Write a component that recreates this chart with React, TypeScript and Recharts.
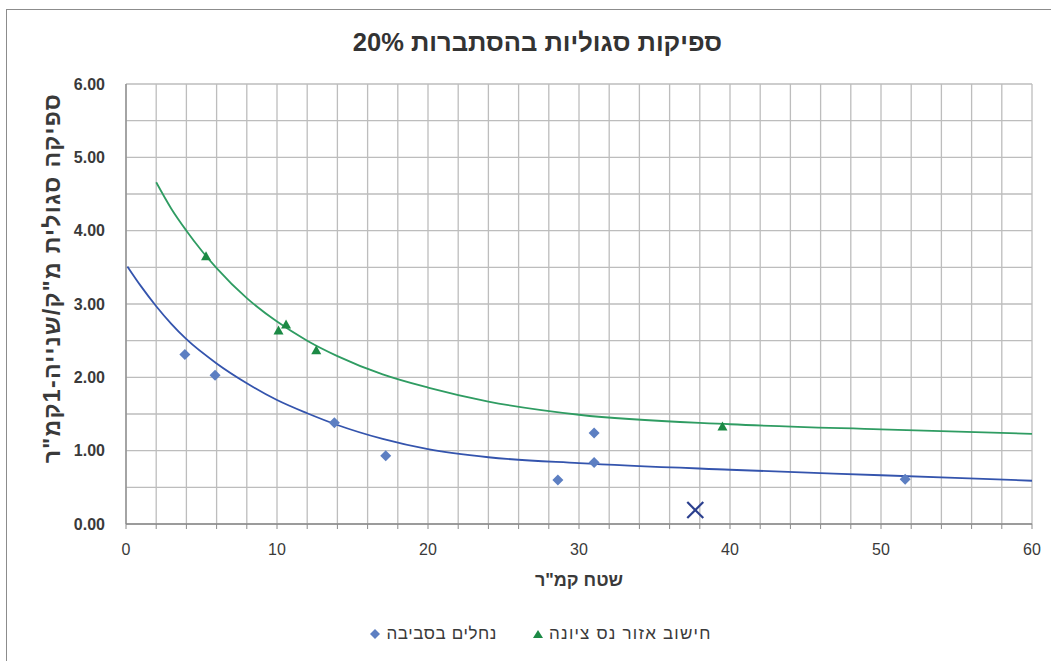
import React from 'react';
import {
  ComposedChart,
  Scatter,
  Line,
  XAxis,
  YAxis,
  CartesianGrid,
} from 'recharts';

// ---- data ----
const streamX = [3.9, 5.9, 13.8, 17.2, 28.6, 31.0, 31.0, 51.6];
const streamY = [2.31, 2.03, 1.38, 0.93, 0.6, 1.24, 0.84, 0.61];

const nessX = [5.3, 10.1, 10.6, 12.6, 39.5];
const nessY = [3.65, 2.64, 2.72, 2.37, 1.33];

const outlierX = [37.7];
const outlierY = [0.19];

// trend lines
const nessTrendX = [2, 3, 4, 5, 6, 8, 10, 12, 14, 17, 20, 24, 30, 40, 50, 60];
const nessTrendY = [4.66, 4.3, 4.0, 3.73, 3.49, 3.08, 2.76, 2.5, 2.29, 2.04, 1.86, 1.67, 1.49, 1.36, 1.29, 1.23];

const streamTrendX = [0.1, 1, 2, 3, 4, 6, 8, 10, 12, 14, 17, 20, 24, 30, 40, 50, 60];
const streamTrendY = [3.51, 3.24, 2.97, 2.73, 2.52, 2.19, 1.92, 1.69, 1.51, 1.35, 1.16, 1.02, 0.91, 0.83, 0.74, 0.665, 0.59];

const xTicks = [0, 2, 4, 6, 8, 10, 12, 14, 16, 18, 20, 22, 24, 26, 28, 30, 32, 34, 36, 38, 40, 42, 44, 46, 48, 50, 52, 54, 56, 58, 60];
const yTicks = [0, 0.5, 1, 1.5, 2, 2.5, 3, 3.5, 4, 4.5, 5, 5.5, 6];

const title = 'ספיקות סגוליות בהסתברות 20%';
const xTitle = 'שטח קמ"ר';
const yTitle = 'ספיקה סגולית מ"ק/שנייה-1קמ"ר';
const streamName = 'נחלים בסביבה';
const nessName = 'חישוב אזור נס ציונה';

const zip = (xs: number[], ys: number[]) => xs.map((x, i) => ({ x, y: ys[i] }));

const streamData = zip(streamX, streamY);
const nessData = zip(nessX, nessY);
const outlierData = zip(outlierX, outlierY);
const nessTrend = zip(nessTrendX, nessTrendY);
const streamTrend = zip(streamTrendX, streamTrendY);

const BLUE_PT = '#5d7fc2';
const BLUE_LN = '#3454ad';
const GREEN_PT = '#1c8a45';
const GREEN_LN = '#2f9c62';
const TEXT = '#3a3a3a';
const FONT = '"Liberation Sans", Arial, sans-serif';

const Diamond = (props: any) => {
  const { cx, cy } = props;
  const r = 5.5;
  return <polygon points={`${cx},${cy - r} ${cx + r},${cy} ${cx},${cy + r} ${cx - r},${cy}`} fill={BLUE_PT} />;
};

const Triangle = (props: any) => {
  const { cx, cy } = props;
  return <polygon points={`${cx},${cy - 5} ${cx + 5},${cy + 4} ${cx - 5},${cy + 4}`} fill={GREEN_PT} />;
};

const XMark = (props: any) => {
  const { cx, cy } = props;
  const r = 8;
  return (
    <g>
      <line x1={cx - r} y1={cy - r} x2={cx + r} y2={cy + r} stroke="#2b3f8e" strokeWidth={2.2} />
      <line x1={cx - r} y1={cy + r} x2={cx + r} y2={cy - r} stroke="#2b3f8e" strokeWidth={2.2} />
    </g>
  );
};

export default function App() {
  return (
    <div
      style={{
        position: 'absolute',
        left: 0,
        top: 0,
        width: 1051,
        height: 661,
        background: '#fff',
        overflow: 'hidden',
      }}
    >
      <div
        style={{
          position: 'absolute',
          left: 6,
          top: 9,
          width: 1060,
          height: 700,
          borderLeft: '1.5px solid #8c8c8c',
          borderTop: '1.5px solid #8c8c8c',
        }}
      />
      <ComposedChart
        width={1051}
        height={661}
        margin={{ top: 84, right: 19, bottom: 107, left: 26 }}
        style={{ position: 'absolute', left: 0, top: 0 }}
      >
        <CartesianGrid stroke="#bdbdbd" strokeWidth={1.3} />
        <XAxis
          type="number"
          dataKey="x"
          domain={[0, 60]}
          ticks={xTicks}
          interval={0}
          tickFormatter={(v: number) => (v % 10 === 0 ? String(v) : '')}
          axisLine={{ stroke: '#8a8a8a', strokeWidth: 1.3 }}
          tickLine={{ stroke: '#8a8a8a' }}
          tickSize={5}
          tickMargin={15}
          height={30}
          tick={{ fill: TEXT, fontSize: 16, fontFamily: FONT }}
          allowDataOverflow
        />
        <YAxis
          type="number"
          dataKey="y"
          domain={[0, 6]}
          ticks={yTicks}
          interval={0}
          tickFormatter={(v: number) => (Number.isInteger(v) ? v.toFixed(2) : '')}
          axisLine={{ stroke: '#8a8a8a', strokeWidth: 1.3 }}
          tickLine={false}
          tickSize={0}
          tickMargin={21}
          width={100}
          tick={{ fill: TEXT, fontSize: 16, fontWeight: 700, fontFamily: FONT }}
          allowDataOverflow
        />
        <Line
          data={streamTrend}
          dataKey="y"
          type="monotone"
          stroke={BLUE_LN}
          strokeWidth={1.8}
          dot={false}
          activeDot={false}
          legendType="none"
          isAnimationActive={false}
        />
        <Line
          data={nessTrend}
          dataKey="y"
          type="monotone"
          stroke={GREEN_LN}
          strokeWidth={1.8}
          dot={false}
          activeDot={false}
          legendType="none"
          isAnimationActive={false}
        />
        <Scatter name={streamName} data={streamData} fill={BLUE_PT} shape={Diamond} isAnimationActive={false} />
        <Scatter name={nessName} data={nessData} fill={GREEN_PT} shape={Triangle} isAnimationActive={false} />
        <Scatter name="outlier" data={outlierData} shape={XMark} legendType="none" isAnimationActive={false} />
      </ComposedChart>
      <div
        dir="rtl"
        style={{
          position: 'absolute',
          left: 0,
          width: 1075,
          top: 28,
          textAlign: 'center',
          fontFamily: FONT,
          fontWeight: 700,
          fontSize: 25.5,
          color: '#333',
        }}
      >
        {title}
      </div>
      <div
        dir="rtl"
        style={{
          position: 'absolute',
          left: 126,
          width: 906,
          top: 570,
          textAlign: 'center',
          fontFamily: FONT,
          fontWeight: 700,
          fontSize: 18,
          color: TEXT,
        }}
      >
        {xTitle}
      </div>
      <div
        dir="rtl"
        style={{
          position: 'absolute',
          left: 52 - 250,
          top: 278 - 12,
          width: 500,
          height: 24,
          lineHeight: '24px',
          textAlign: 'center',
          transform: 'rotate(-90deg)',
          transformOrigin: '50% 50%',
          fontFamily: FONT,
          fontWeight: 700,
          fontSize: 23,
          letterSpacing: 1.3,
          color: TEXT,
        }}
      >
        {yTitle}
      </div>
      <div
        style={{
          position: 'absolute',
          left: 0,
          width: 1082,
          top: 624,
          display: 'flex',
          justifyContent: 'center',
          alignItems: 'center',
          gap: 36,
          fontFamily: FONT,
          fontSize: 17,
          letterSpacing: 0.6,
          color: TEXT,
        }}
      >
        <div style={{ display: 'flex', alignItems: 'center', gap: 6 }}>
          <svg width={10} height={10}>
            <polygon points="5,0 10,5 5,10 0,5" fill={BLUE_PT} />
          </svg>
          <span dir="rtl">{streamName}</span>
        </div>
        <div style={{ display: 'flex', alignItems: 'center', gap: 6 }}>
          <svg width={10} height={10}>
            <polygon points="5,1 10,9 0,9" fill={GREEN_PT} />
          </svg>
          <span dir="rtl" style={{ letterSpacing: 1.2 }}>{nessName}</span>
        </div>
      </div>
    </div>
  );
}
